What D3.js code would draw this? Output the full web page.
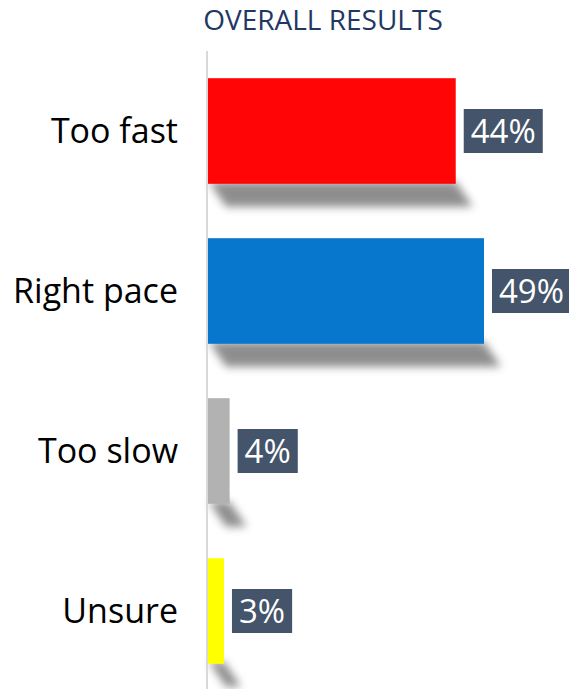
<!DOCTYPE html>
<html><head><meta charset="utf-8">
<script src="https://cdn.jsdelivr.net/npm/d3@7"></script>
<style>html,body{margin:0;padding:0;background:#fff;}</style>
</head><body>
<div id="chart"></div>
<script>
const categories = ["Too fast", "Right pace", "Too slow", "Unsure"];
const values = [44, 49, 4, 3];
const valueLabels = ["44%", "49%", "4%", "3%"];
const colors = ["#ff0505", "#0677cc", "#b2b2b2", "#ffff00"];
const title = "OVERALL RESULTS";

const W = 569, H = 689;
const x0 = 207;
const FONT = "'Open Sans', Lato, sans-serif";
const svg = d3.select("#chart").append("svg").attr("width", W).attr("height", H);

const defs = svg.append("defs");
defs.append("filter").attr("id", "blur").attr("x", "-30%").attr("y", "-50%").attr("width", "160%").attr("height", "200%")
  .append("feGaussianBlur").attr("stdDeviation", 4);

const x = d3.scaleLinear().domain([0, 49]).range([x0, 484]);
const y = d3.scaleBand().domain(categories).range([51, 691]).paddingInner(0.34).paddingOuter(0.17);

svg.append("text").attr("x", 323).attr("y", 29.5).attr("text-anchor", "middle")
  .attr("font-family", FONT).attr("font-size", 28)
  .attr("fill", "#1f3864").text(title);

// perspective shadows
svg.selectAll("path.shadow").data(categories).enter().append("path").attr("class", "shadow")
  .attr("d", (d, i) => {
    const b = y(d) + y.bandwidth() - 2, xe = x(values[i]);
    return `M${x0 + 2},${b} L${xe},${b} L${xe + 17},${b + 25} L${x0 + 19},${b + 25} Z`;
  })
  .attr("fill", "#7a7a7a").attr("opacity", 0.85).attr("filter", "url(#blur)");

svg.selectAll("rect.bar").data(categories).enter().append("rect").attr("class", "bar")
  .attr("x", x0).attr("y", d => y(d)).attr("width", (d, i) => x(values[i]) - x0)
  .attr("height", y.bandwidth()).attr("fill", (d, i) => colors[i]);

svg.append("line").attr("x1", x0).attr("x2", x0).attr("y1", 51).attr("y2", H)
  .attr("stroke", "#d9d9d9").attr("stroke-width", 2);

svg.selectAll("text.cat").data(categories).enter().append("text").attr("class", "cat")
  .attr("x", 178).attr("y", d => y(d) + y.bandwidth() / 2).attr("dy", "0.36em")
  .attr("text-anchor", "end").attr("font-family", FONT)
  .attr("font-size", 34).attr("fill", "#000").text(d => d);

const lg = svg.selectAll("g.lbl").data(categories).enter().append("g").attr("class", "lbl");
lg.each(function(d, i) {
  const g = d3.select(this);
  const cy = y(d) + y.bandwidth() / 2;
  const bx = x(values[i]) + 8;
  const t = g.append("text").attr("x", bx + 7).attr("y", cy).attr("dy", "0.36em")
    .attr("font-family", FONT).attr("font-size", 33)
    .attr("fill", "#fff").text(valueLabels[i]);
  const w = t.node().getComputedTextLength();
  g.insert("rect", "text").attr("x", bx).attr("y", cy - 22).attr("width", w + 14).attr("height", 44)
    .attr("fill", "#44546a");
});
</script>
</body></html>
